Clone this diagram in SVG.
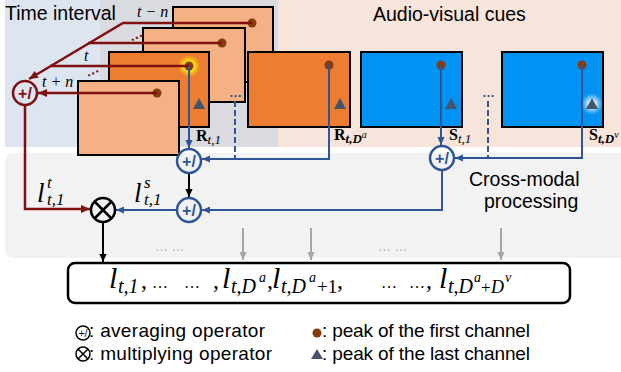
<svg xmlns="http://www.w3.org/2000/svg" width="621" height="372" viewBox="0 0 621 372">
<style>
.fl{fill:#f4b183;stroke:#000;stroke-width:2}
.fd{fill:#ed7d31;stroke:#000;stroke-width:2}
.fb{fill:#0093f3;stroke:#000;stroke-width:2}
.dot{fill:#843c0c}
.tri{fill:#44546a}
.bl{stroke:#2f5597;stroke-width:2;fill:none}
.bd{stroke:#2f5597;stroke-width:2;fill:none;stroke-dasharray:6 3}
.rd{stroke:#7f1010;stroke-width:2.5;fill:none}
.bk{stroke:#000;stroke-width:2;fill:none}
.gr{stroke:#a6a6a6;stroke-width:2;fill:none}
.opb{fill:none;stroke:#2f5597;stroke-width:2.5}
.sans{font-family:"Liberation Sans",Arial,sans-serif;fill:#000}
.m{font-family:"Liberation Serif","Times New Roman",serif;font-style:italic;fill:#000}
.n{font-family:"Liberation Serif","Times New Roman",serif;fill:#000}
.bs{font-family:"Liberation Serif","Times New Roman",serif;font-weight:bold;fill:#000}
.opt{font-family:"Liberation Sans",Arial,sans-serif;font-weight:bold;font-size:16px;text-anchor:middle}
</style>
<defs>
<marker id="ab" viewBox="0 0 10 10" refX="10" refY="5" markerWidth="8" markerHeight="8" orient="auto" markerUnits="userSpaceOnUse"><path d="M0,0.5 L10,5 L0,9.5 z" fill="#2f5597"/></marker>
<marker id="ar" viewBox="0 0 10 10" refX="10" refY="5" markerWidth="9" markerHeight="9" orient="auto" markerUnits="userSpaceOnUse"><path d="M0,0.5 L10,5 L0,9.5 z" fill="#7f1010"/></marker>
<marker id="ak" viewBox="0 0 10 10" refX="10" refY="5" markerWidth="8" markerHeight="8" orient="auto" markerUnits="userSpaceOnUse"><path d="M0,0.5 L10,5 L0,9.5 z" fill="#000"/></marker>
<marker id="ag" viewBox="0 0 10 10" refX="10" refY="5" markerWidth="8" markerHeight="8" orient="auto" markerUnits="userSpaceOnUse"><path d="M0,0.5 L10,5 L0,9.5 z" fill="#a6a6a6"/></marker>
<radialGradient id="gy"><stop offset="0.3" stop-color="#ffff00" stop-opacity="1"/><stop offset="1" stop-color="#ffff00" stop-opacity="0"/></radialGradient>
<radialGradient id="gb"><stop offset="0.3" stop-color="#ffffff" stop-opacity="0.9"/><stop offset="1" stop-color="#bfe3ff" stop-opacity="0"/></radialGradient>
</defs>

<g id="backgrounds">
<rect x="5" y="0" width="100" height="147" fill="#dde5f1"/>
<rect x="100" y="-8" width="190" height="155" rx="9" fill="#dadbe0"/>
<rect x="278" y="0" width="343" height="147" fill="#f7e4da"/>
<rect x="5" y="153" width="625" height="105" rx="8" fill="#f2f2f2"/>
</g>

<g id="titles">
<text class="sans" x="5" y="20" font-size="19.5">Time interval</text>
<text class="sans" x="373" y="21" font-size="19.5">Audio-visual cues</text>
<text class="sans" x="469" y="186" font-size="19.5">Cross-modal</text>
<text class="sans" x="484" y="208" font-size="19.5">processing</text>
</g>

<g id="frame-t-minus-n">
<rect class="fl" x="173" y="7" width="100" height="75"/>
<circle class="dot" cx="252" cy="23" r="4.5"/>
</g>
<g id="frame-2">
<rect class="fl" x="143" y="28" width="102" height="74"/>
<circle class="dot" cx="222" cy="43" r="4.5"/>
</g>
<g id="frame-t">
<rect class="fd" x="109" y="52" width="100" height="75"/>
<circle cx="189" cy="66" r="11" fill="url(#gy)"/>
<circle class="dot" cx="189" cy="66" r="4.5"/>
<path class="tri" d="M199,98 L205,109 L193,109 z"/>
</g>
<g id="frame-t-plus-n">
<rect class="fl" x="78" y="81" width="101" height="74"/>
<circle class="dot" cx="157" cy="93" r="4.5"/>
</g>
<g id="frame-R-Da">
<rect class="fd" x="248" y="52" width="102" height="75"/>
<circle class="dot" cx="329" cy="65" r="4.5"/>
<path class="tri" d="M340,98 L346,109 L334,109 z"/>
</g>
<g id="frame-S-1">
<rect class="fb" x="361" y="52" width="101" height="75"/>
<circle class="dot" cx="441" cy="65" r="4.5"/>
<path class="tri" d="M451,98 L457,109 L445,109 z"/>
</g>
<g id="frame-S-Dv">
<rect class="fb" x="502" y="52" width="101" height="75"/>
<circle cx="592" cy="104" r="11" fill="url(#gb)"/>
<circle class="dot" cx="582" cy="65" r="4.5"/>
<path class="tri" d="M592,98 L598,109 L586,109 z"/>
</g>

<g id="frame-labels">
<text class="m" x="137" y="17" font-size="16">t − n</text>
<text class="m" x="84" y="61" font-size="16">t</text>
<text class="m" x="42" y="87" font-size="16">t + n</text>
<text x="129" y="39" font-family="'Liberation Sans',sans-serif" font-weight="bold" font-size="14" fill="#7f1010" transform="rotate(-25 136 36)">…</text>
<text x="85" y="75" font-family="'Liberation Sans',sans-serif" font-weight="bold" font-size="14" fill="#7f1010" transform="rotate(-25 91 71)">…</text>
<text x="229" y="97" font-family="'Liberation Sans',sans-serif" font-weight="bold" font-size="13" fill="#2f5597">…</text>
<text x="482" y="97" font-family="'Liberation Sans',sans-serif" font-weight="bold" font-size="13" fill="#2f5597">…</text>
<text x="196" y="141"><tspan class="bs" font-size="16">R</tspan><tspan class="m" font-size="13" dy="3">t,1</tspan></text>
<text x="334" y="140"><tspan class="bs" font-size="16">R</tspan><tspan class="m" font-size="13" font-weight="bold" dy="3">t,D</tspan><tspan class="m" font-size="10" dy="-5">a</tspan></text>
<text x="449" y="140"><tspan class="bs" font-size="16">S</tspan><tspan class="m" font-size="13" dy="3">t,1</tspan></text>
<text x="589" y="140"><tspan class="bs" font-size="16">S</tspan><tspan class="m" font-size="13" font-weight="bold" dy="3">t,D</tspan><tspan class="m" font-size="10" dy="-5">v</tspan></text>
</g>

<g id="connectors">
<path class="rd" d="M252,23 H123 L29,79" marker-end="url(#ar)"/>
<path class="rd" d="M222,43 H88"/>
<path class="rd" d="M189,66 H50"/>
<path class="rd" d="M157,93 H38" marker-end="url(#ar)"/>
<path class="rd" d="M25,105 V209 H90" marker-end="url(#ar)"/>
<path class="bl" d="M189,66 V148" marker-end="url(#ab)"/>
<path class="bl" d="M329,65 V159 H202" marker-end="url(#ab)"/>
<path class="bd" d="M235,101 V159"/>
<path class="bl" d="M441,65 V145" marker-end="url(#ab)"/>
<path class="bl" d="M582,65 V158 H455" marker-end="url(#ab)"/>
<path class="bd" d="M488,101 V158"/>
<path class="bl" d="M442,170 V210 H202" marker-end="url(#ab)"/>
<path class="bl" d="M177,210 H116" marker-end="url(#ab)"/>
<path class="bk" d="M189,173 V197" marker-end="url(#ak)"/>
<path class="bk" d="M103,222 V262" marker-end="url(#ak)"/>
<path class="gr" d="M243,228 V260" marker-end="url(#ag)"/>
<path class="gr" d="M311,228 V260" marker-end="url(#ag)"/>
<path class="gr" d="M501,228 V260" marker-end="url(#ag)"/>
</g>

<g id="op-time-avg">
<circle cx="25" cy="93" r="12" fill="none" stroke="#7f1010" stroke-width="2.5"/>
<text class="opt" x="25" y="99" fill="#7f1010">+/</text>
</g>
<g id="op-avg-R">
<circle class="opb" cx="189" cy="161" r="12"/>
<text class="opt" x="189" y="167" fill="#2f5597">+/</text>
</g>
<g id="op-avg-S">
<circle class="opb" cx="442" cy="158" r="12"/>
<text class="opt" x="442" y="164" fill="#2f5597">+/</text>
</g>
<g id="op-avg-C">
<circle class="opb" cx="189" cy="210" r="12"/>
<text class="opt" x="189" y="216" fill="#2f5597">+/</text>
</g>
<g id="op-mult">
<circle cx="103" cy="210" r="12" fill="none" stroke="#000" stroke-width="2.5"/>
<path d="M94.5,201.5 L111.5,218.5 M111.5,201.5 L94.5,218.5" stroke="#000" stroke-width="2.5"/>
</g>

<g id="lower-labels">
<text class="m" x="37" y="202" font-size="27">l</text>
<text class="m" x="47" y="188" font-size="17">t</text>
<text class="m" x="47" y="205" font-size="17">t,1</text>
<text class="m" x="134" y="202" font-size="27">l</text>
<text class="m" x="144" y="188" font-size="17">s</text>
<text class="m" x="144" y="205" font-size="17">t,1</text>
<text x="155" y="251" font-family="'Liberation Sans',sans-serif" font-size="13" fill="#a6a6a6">…  …</text>
<text x="378" y="251" font-family="'Liberation Sans',sans-serif" font-size="13" fill="#a6a6a6">…  …</text>
</g>

<g id="output-box">
<rect x="68" y="263" width="502" height="40" rx="7" fill="#fff" stroke="#000" stroke-width="2.5"/>
<text class="m" font-size="30" x="109" y="288">l</text>
<text class="m" font-size="20" x="118" y="293">t,1</text>
<text class="n" font-size="24" x="141" y="288">,</text>
<text class="n" font-size="16" x="152" y="288">…</text>
<text class="n" font-size="16" x="184" y="288">…</text>
<text class="n" font-size="24" x="213" y="288">,</text>
<text class="m" font-size="30" x="222" y="288">l</text>
<text class="m" font-size="20" x="231" y="293">t,D</text>
<text class="m" font-size="14" x="259" y="282">a</text>
<text class="n" font-size="24" x="267" y="288">,</text>
<text class="m" font-size="30" x="272" y="288">l</text>
<text class="m" font-size="20" x="281" y="293">t,D</text>
<text class="m" font-size="14" x="309" y="282">a</text>
<text class="n" font-size="19" x="317" y="293">+1</text>
<text class="n" font-size="24" x="337" y="288">,</text>
<text class="n" font-size="16" x="381" y="288">…</text>
<text class="n" font-size="16" x="409" y="288">…</text>
<text class="n" font-size="24" x="426" y="288">,</text>
<text class="m" font-size="30" x="439" y="288">l</text>
<text class="m" font-size="20" x="448" y="293">t,D</text>
<text class="m" font-size="14" x="474" y="282">a</text>
<text class="n" font-size="17" x="481" y="293">+</text>
<text class="m" font-size="18" x="491" y="293">D</text>
<text class="m" font-size="14" x="505" y="282">v</text>
</g>

<g id="legend">
<circle cx="83" cy="333" r="7" fill="none" stroke="#000" stroke-width="1.5"/>
<text x="83" y="337" font-family="'Liberation Sans',sans-serif" font-size="10.5" text-anchor="middle">+/</text>
<text class="sans" x="89" y="337" font-size="19" textLength="176">: averaging operator</text>
<circle cx="83" cy="354" r="7" fill="none" stroke="#000" stroke-width="1.5"/>
<path d="M78,349 L88,359 M88,349 L78,359" stroke="#000" stroke-width="1.5"/>
<text class="sans" x="89" y="360" font-size="19" textLength="183">: multiplying operator</text>
<circle class="dot" cx="317" cy="333" r="4.5"/>
<text class="sans" x="322" y="337" font-size="19" textLength="208">: peak of the first channel</text>
<path class="tri" d="M317,349 L323,359 L311,359 z"/>
<text class="sans" x="322" y="360" font-size="19" textLength="208">: peak of the last channel</text>
</g>
</svg>
